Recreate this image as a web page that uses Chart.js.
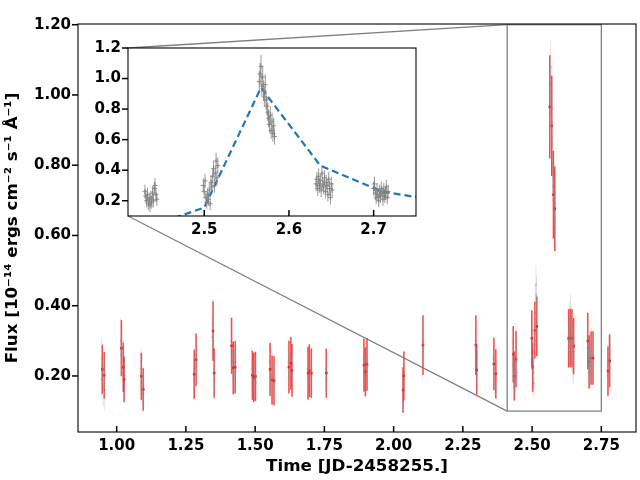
<!DOCTYPE html>
<html>
<head>
<meta charset="utf-8">
<script src="https://cdn.jsdelivr.net/npm/chart.js@4.4.1/dist/chart.umd.min.js"></script>
<style>
  html, body { margin: 0; padding: 0; background: #fff; }
  #wrap { position: relative; width: 640px; height: 480px; }
  #wrap canvas { position: absolute; left: 0; top: 0; }
</style>
</head>
<body>
<div id="wrap">
  <canvas id="main" width="640" height="480"></canvas>
  <canvas id="inset" width="640" height="480"></canvas>
</div>
<script>
// binned light curve (red points)
const binTime = [0.948, 0.955, 1.017, 1.024, 1.027, 1.089, 1.096, 1.280, 1.287, 1.348, 1.352,
    1.415, 1.421, 1.428, 1.490, 1.495, 1.501, 1.554, 1.561, 1.568, 1.622, 1.629, 1.633,
    1.691, 1.696, 1.703, 1.757, 1.893, 1.898, 1.904, 2.034, 2.037, 2.106, 2.297, 2.300,
    2.362, 2.369, 2.432, 2.436, 2.442, 2.499, 2.502, 2.510, 2.517, 2.564, 2.571, 2.577, 2.582,
    2.632, 2.638, 2.644, 2.650, 2.701, 2.706, 2.713, 2.720, 2.774, 2.780];
const binFlux = [0.219, 0.202, 0.279, 0.225, 0.190, 0.199, 0.162, 0.205, 0.246, 0.328, 0.208,
    0.286, 0.223, 0.225, 0.202, 0.196, 0.199, 0.219, 0.189, 0.186, 0.225, 0.236, 0.216,
    0.208, 0.215, 0.208, 0.208, 0.231, 0.212, 0.233, 0.160, 0.200, 0.288, 0.288, 0.217,
    0.234, 0.206, 0.262, 0.200, 0.248, 0.307, 0.225, 0.330, 0.341, 0.966, 0.912, 0.716, 0.676,
    0.307, 0.309, 0.307, 0.285, 0.300, 0.240, 0.251, 0.251, 0.214, 0.243];
const binErr = [0.070, 0.066, 0.080, 0.070, 0.065, 0.067, 0.060, 0.070, 0.075, 0.085, 0.070,
    0.080, 0.075, 0.075, 0.070, 0.070, 0.070, 0.075, 0.070, 0.070, 0.075, 0.075, 0.075,
    0.075, 0.075, 0.070, 0.070, 0.075, 0.070, 0.075, 0.065, 0.070, 0.085, 0.085, 0.070,
    0.075, 0.070, 0.080, 0.070, 0.080, 0.080, 0.070, 0.080, 0.085, 0.147, 0.143, 0.125, 0.120,
    0.083, 0.083, 0.083, 0.080, 0.080, 0.076, 0.076, 0.076, 0.070, 0.075];

// single exposures outside the zoom window (faint grey)
const expTime = [0.946, 0.947, 0.949, 0.952, 0.954, 0.956, 0.957,
    1.015, 1.017, 1.019, 1.022, 1.024, 1.026, 1.028,
    1.087, 1.089, 1.091, 1.094, 1.096, 1.098,
    1.278, 1.281, 1.284, 1.287, 1.289,
    1.345, 1.347, 1.349, 1.351, 1.353, 1.355,
    1.413, 1.415, 1.418, 1.421, 1.424, 1.427, 1.430,
    1.488, 1.491, 1.494, 1.497, 1.500, 1.503,
    1.552, 1.555, 1.558, 1.561, 1.564, 1.567, 1.570,
    1.620, 1.623, 1.626, 1.629, 1.632, 1.635,
    1.689, 1.692, 1.695, 1.698, 1.701, 1.704,
    1.755, 1.757, 1.759,
    1.891, 1.894, 1.897, 1.900, 1.903, 1.906,
    2.032, 2.034, 2.036, 2.038,
    2.104, 2.106, 2.108,
    2.295, 2.297, 2.299, 2.301,
    2.360, 2.363, 2.366, 2.369, 2.371,
    2.772, 2.774, 2.777, 2.779, 2.781];
const expFlux = [0.25, 0.19, 0.23, 0.17, 0.22, 0.20, 0.16,
    0.30, 0.26, 0.28, 0.21, 0.25, 0.18, 0.20,
    0.22, 0.18, 0.20, 0.15, 0.17, 0.16,
    0.19, 0.22, 0.26, 0.23, 0.25,
    0.31, 0.35, 0.30, 0.22, 0.19, 0.21,
    0.30, 0.27, 0.24, 0.20, 0.23, 0.21, 0.24,
    0.22, 0.18, 0.21, 0.19, 0.20, 0.18,
    0.24, 0.20, 0.19, 0.17, 0.20, 0.18, 0.19,
    0.24, 0.21, 0.25, 0.22, 0.20, 0.23,
    0.22, 0.19, 0.23, 0.20, 0.21, 0.20,
    0.22, 0.19, 0.21,
    0.25, 0.21, 0.22, 0.20, 0.24, 0.23,
    0.15, 0.17, 0.19, 0.21,
    0.30, 0.27, 0.29,
    0.30, 0.27, 0.23, 0.20,
    0.25, 0.22, 0.20, 0.21, 0.19,
    0.20, 0.23, 0.25, 0.22, 0.26];
const expErr = [0.060, 0.055, 0.060, 0.058, 0.062, 0.057, 0.060,
    0.065, 0.060, 0.062, 0.058, 0.060, 0.057, 0.059,
    0.058, 0.056, 0.060, 0.055, 0.057, 0.056,
    0.060, 0.058, 0.062, 0.060, 0.061,
    0.066, 0.070, 0.064, 0.060, 0.058, 0.059,
    0.064, 0.062, 0.060, 0.058, 0.060, 0.059, 0.061,
    0.060, 0.057, 0.059, 0.058, 0.060, 0.057,
    0.061, 0.059, 0.058, 0.056, 0.059, 0.057, 0.058,
    0.061, 0.059, 0.062, 0.060, 0.058, 0.060,
    0.060, 0.058, 0.061, 0.059, 0.060, 0.059,
    0.060, 0.058, 0.059,
    0.062, 0.059, 0.060, 0.058, 0.061, 0.060,
    0.055, 0.057, 0.058, 0.060,
    0.066, 0.063, 0.065,
    0.066, 0.063, 0.060, 0.058,
    0.062, 0.060, 0.058, 0.059, 0.057,
    0.058, 0.060, 0.062, 0.059, 0.063];

// single exposures inside the zoom window (inset, and faint in the main plot)
const zoomTime = [2.430, 2.431, 2.432, 2.433, 2.434, 2.435, 2.436, 2.437, 2.438, 2.439, 2.440, 2.441, 2.442, 2.443, 2.444,
    2.499, 2.500, 2.501, 2.502, 2.503, 2.504, 2.505, 2.506, 2.507, 2.508, 2.509, 2.510, 2.511, 2.512, 2.513, 2.514, 2.515, 2.516,
    2.565, 2.566, 2.567, 2.568, 2.569, 2.570, 2.571, 2.572, 2.573, 2.574, 2.575, 2.576, 2.577, 2.578, 2.579, 2.580, 2.581, 2.582, 2.583,
    2.632, 2.633, 2.634, 2.635, 2.636, 2.637, 2.638, 2.639, 2.640, 2.641, 2.642, 2.643, 2.644, 2.645, 2.646, 2.647, 2.648, 2.649, 2.650, 2.651,
    2.700, 2.701, 2.702, 2.703, 2.704, 2.705, 2.706, 2.707, 2.708, 2.709, 2.710, 2.711, 2.712, 2.713, 2.714, 2.715, 2.716, 2.717];
const zoomFlux = [0.26, 0.23, 0.20, 0.24, 0.18, 0.21, 0.17, 0.22, 0.19, 0.25, 0.20, 0.28, 0.30, 0.24, 0.21,
    0.30, 0.26, 0.33, 0.22, 0.19, 0.24, 0.21, 0.27, 0.18, 0.32, 0.29, 0.36, 0.41, 0.30, 0.38, 0.46, 0.35, 0.43,
    0.98, 1.03, 1.08, 0.95, 1.01, 0.92, 0.88, 0.96, 0.86, 0.82, 0.78, 0.74, 0.70, 0.76, 0.66, 0.72, 0.64, 0.69, 0.62,
    0.31, 0.34, 0.28, 0.36, 0.30, 0.33, 0.27, 0.38, 0.31, 0.29, 0.35, 0.26, 0.32, 0.30, 0.24, 0.34, 0.28, 0.22, 0.31, 0.27,
    0.28, 0.31, 0.25, 0.22, 0.27, 0.24, 0.20, 0.26, 0.23, 0.28, 0.25, 0.21, 0.27, 0.23, 0.25, 0.29, 0.22, 0.26];
const zoomErr = [0.045, 0.043, 0.044, 0.046, 0.042, 0.044, 0.043, 0.045, 0.042, 0.046, 0.044, 0.047, 0.048, 0.045, 0.043,
    0.046, 0.045, 0.047, 0.043, 0.042, 0.044, 0.043, 0.045, 0.042, 0.047, 0.046, 0.049, 0.052, 0.047, 0.050, 0.055, 0.049, 0.053,
    0.070, 0.072, 0.075, 0.068, 0.071, 0.067, 0.065, 0.069, 0.064, 0.062, 0.060, 0.058, 0.056, 0.059, 0.054, 0.057, 0.053, 0.055, 0.052,
    0.048, 0.050, 0.047, 0.051, 0.048, 0.049, 0.046, 0.052, 0.048, 0.047, 0.050, 0.046, 0.049, 0.048, 0.045, 0.050, 0.047, 0.044, 0.048, 0.046,
    0.046, 0.047, 0.045, 0.043, 0.046, 0.044, 0.042, 0.045, 0.044, 0.046, 0.045, 0.043, 0.046, 0.044, 0.045, 0.047, 0.043, 0.045];

// flare model (dashed, inset only)
const modelTime = [2.44, 2.50, 2.567, 2.637, 2.71, 2.75];
const modelFlux = [0.04, 0.155, 0.94, 0.43, 0.26, 0.224];

// ticks and limits
const mainXTicks = [1.0, 1.25, 1.5, 1.75, 2.0, 2.25, 2.5, 2.75];
const mainYTicks = [0.2, 0.4, 0.6, 0.8, 1.0, 1.2];
const insetXTicks = [2.5, 2.6, 2.7];
const insetYTicks = [0.2, 0.4, 0.6, 0.8, 1.0, 1.2];
const mainXLim = [0.8604, 2.8752];
const mainYLim = [0.0405, 1.202];
const insetXLim = [2.41, 2.75];
const insetYLim = [0.1, 1.2];

const tickFont = { family: 'DejaVu Sans', size: 15, weight: 'bold' };
const titleFont = { family: 'DejaVu Sans', size: 16.7, weight: 'bold' };

const toPoints = (xs, ys) => xs.map((x, i) => ({ x: x, y: ys[i] }));

// vertical error bars, drawn just before each dataset's markers
const errorBars = {
    id: 'errorBars',
    beforeDatasetDraw(chart, args) {
        const ds = chart.data.datasets[args.index];
        if (!ds.yErr) return;
        const { ctx, chartArea: a } = chart;
        const ys = chart.scales.y;
        ctx.save();
        ctx.beginPath();
        ctx.rect(a.left, a.top, a.right - a.left, a.bottom - a.top);
        ctx.clip();
        ctx.strokeStyle = ds.errColor;
        ctx.lineWidth = ds.errWidth;
        args.meta.data.forEach((pt, j) => {
            const v = ds.data[j].y;
            const e = ds.yErr[j];
            ctx.beginPath();
            ctx.moveTo(pt.x, ys.getPixelForValue(v - e));
            ctx.lineTo(pt.x, ys.getPixelForValue(v + e));
            ctx.stroke();
        });
        ctx.restore();
    }
};

// matplotlib-like box: x ticks point in, y ticks point out
const frame = {
    id: 'frame',
    beforeDraw(chart, args, opts) {
        if (!opts.fill) return;
        const { ctx, chartArea: a } = chart;
        ctx.save();
        ctx.fillStyle = opts.fill;
        ctx.fillRect(a.left, a.top, a.right - a.left, a.bottom - a.top);
        ctx.restore();
    },
    afterDraw(chart, args, opts) {
        const { ctx, chartArea: a, scales } = chart;
        ctx.save();
        ctx.strokeStyle = '#000';
        ctx.lineWidth = 1.5;
        scales.x.ticks.forEach(t => {
            const px = scales.x.getPixelForValue(t.value);
            ctx.beginPath();
            ctx.moveTo(px, a.bottom);
            ctx.lineTo(px, a.bottom - opts.len);
            ctx.stroke();
        });
        scales.y.ticks.forEach(t => {
            const py = scales.y.getPixelForValue(t.value);
            ctx.beginPath();
            ctx.moveTo(a.left, py);
            ctx.lineTo(a.left - opts.len, py);
            ctx.stroke();
        });
        ctx.lineWidth = 1.1;
        ctx.strokeRect(a.left, a.top, a.right - a.left, a.bottom - a.top);
        ctx.restore();
    }
};

function axisOpts(lim, ticks, decimals, size, pad, title) {
    return {
        type: 'linear',
        min: lim[0],
        max: lim[1],
        grid: { display: false, drawTicks: false },
        border: { display: false },
        afterBuildTicks: s => { s.ticks = ticks.map(v => ({ value: v })); },
        afterFit: s => { if (s.isHorizontal()) s.height = size; else s.width = size; },
        ticks: {
            font: tickFont, color: '#000', padding: pad, autoSkip: false, maxRotation: 0,
            callback: v => v.toFixed(decimals)
        },
        title: title
    };
}

// inset chart
const insetChart = new Chart(document.getElementById('inset'), {
    type: 'scatter',
    data: {
        datasets: [
            {
                data: toPoints(zoomTime, zoomFlux),
                yErr: zoomErr,
                errColor: 'rgba(128,128,128,0.8)',
                errWidth: 1,
                pointStyle: 'cross',
                pointRadius: 2.5,
                borderWidth: 1,
                borderColor: 'rgba(128,128,128,0.85)'
            },
            {
                data: toPoints(modelTime, modelFlux),
                showLine: true,
                borderColor: '#1f77b4',
                borderWidth: 2.2,
                borderDash: [7, 4],
                pointRadius: 0
            }
        ]
    },
    options: {
        responsive: false,
        animation: false,
        layout: { padding: { left: 88, top: 48, right: 224, bottom: 234 } },
        plugins: { legend: { display: false }, tooltip: { enabled: false }, frame: { len: 6, fill: '#fff' } },
        scales: {
            x: axisOpts(insetXLim, insetXTicks, 1, 30, 5, { display: false }),
            y: axisOpts(insetYLim, insetYTicks, 1, 40, 7, { display: false })
        }
    },
    plugins: [errorBars, frame]
});

// zoom box and connectors on the main plot
const zoomMark = {
    id: 'zoomMark',
    afterDatasetsDraw(chart) {
        const { ctx, scales } = chart;
        const x0 = scales.x.getPixelForValue(insetXLim[0]);
        const x1 = scales.x.getPixelForValue(insetXLim[1]);
        const y0 = scales.y.getPixelForValue(insetYLim[0]);
        const y1 = scales.y.getPixelForValue(insetYLim[1]);
        const ia = insetChart.chartArea;
        ctx.save();
        ctx.strokeStyle = 'rgb(128,128,128)';
        ctx.lineWidth = 1.3;
        ctx.strokeRect(x0, y1, x1 - x0, y0 - y1);
        ctx.beginPath();
        ctx.moveTo(ia.left, ia.top);
        ctx.lineTo(x0, y1);
        ctx.moveTo(ia.left, ia.bottom);
        ctx.lineTo(x0, y0);
        ctx.stroke();
        ctx.restore();
    }
};

new Chart(document.getElementById('main'), {
    type: 'scatter',
    data: {
        datasets: [
            {
                data: toPoints(expTime.concat(zoomTime), expFlux.concat(zoomFlux)),
                yErr: expErr.concat(zoomErr),
                errColor: 'rgba(150,150,150,0.26)',
                errWidth: 1,
                pointRadius: 1.1,
                borderWidth: 0,
                backgroundColor: 'rgba(128,128,128,0.35)'
            },
            {
                data: toPoints(binTime, binFlux),
                yErr: binErr,
                errColor: 'rgba(255,0,0,0.75)',
                errWidth: 1.5,
                pointStyle: 'rect',
                pointRadius: 1.8,
                borderWidth: 0,
                backgroundColor: 'rgba(255,0,0,0.9)'
            }
        ]
    },
    options: {
        responsive: false,
        animation: false,
        layout: { padding: { left: 0, top: 24, right: 3, bottom: 0 } },
        plugins: { legend: { display: false }, tooltip: { enabled: false }, frame: { len: 6 } },
        scales: {
            x: axisOpts(mainXLim, mainXTicks, 2, 48, 5, {
                display: true, text: 'Time [JD-2458255.]', font: titleFont, color: '#000',
                padding: { top: 0, bottom: 3 }
            }),
            y: axisOpts(mainYLim, mainYTicks, 2, 78, 7, {
                display: true, text: 'Flux [10⁻¹⁴ ergs cm⁻² s⁻¹ Å⁻¹]', font: titleFont, color: '#000',
                padding: { top: 3, bottom: 0 }
            })
        }
    },
    plugins: [errorBars, zoomMark, frame]
});
</script>
</body>
</html>
